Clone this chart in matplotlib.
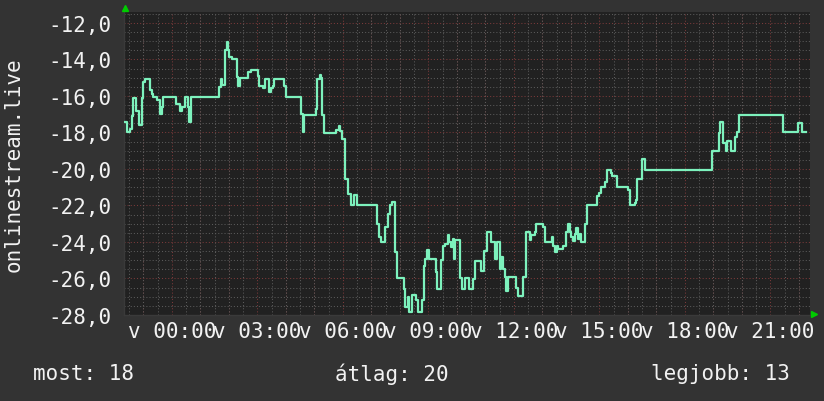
import matplotlib
matplotlib.use("Agg")
import matplotlib.pyplot as plt
from matplotlib.ticker import MultipleLocator, FixedLocator

# --- data (time in hours relative to Sunday 00:00, value) ---
hours = [-1.64, -1.58, -1.47, -1.41, -1.37, -1.26, -1.17, -1.06, -1.0, -0.94,
         -0.76, -0.71, -0.65, -0.53, -0.41, -0.35, -0.3, 0.15, 0.29, 0.35,
         0.46, 0.58, 0.61, 0.66, 1.67, 1.72, 1.75, 1.87, 1.93, 1.98,
         2.02, 2.1, 2.28, 2.31, 2.39, 2.66, 2.78, 3.01, 3.07, 3.19,
         3.25, 3.42, 3.48, 3.54, 3.6, 3.95, 4.01, 4.53, 4.59, 4.65,
         5.04, 5.08, 5.18, 5.24, 5.27, 5.32, 5.76, 5.86, 5.9, 5.97,
         6.09, 6.17, 6.29, 6.4, 6.5, 7.2, 7.26, 7.32, 7.49, 7.59,
         7.67, 7.73, 7.84, 7.9, 8.14, 8.17, 8.29, 8.33, 8.43, 8.57,
         8.64, 8.78, 8.84, 8.89, 8.95, 9.01, 9.25, 9.31, 9.46, 9.5,
         9.58, 9.69, 9.74, 9.81, 9.86, 9.89, 9.95, 10.12, 10.18, 10.3,
         10.44, 10.57, 10.65, 10.84, 10.95, 11.07, 11.21, 11.33, 11.42, 11.5,
         11.56, 11.62, 11.68, 11.74, 11.8, 12.09, 12.15, 12.32, 12.42, 12.56,
         12.61, 12.73, 12.79, 13.02, 13.08, 13.32, 13.38, 13.44, 13.5, 13.55,
         13.73, 13.84, 13.9, 13.96, 14.0, 14.08, 14.16, 14.19, 14.25, 14.31,
         14.37, 14.5, 14.56, 14.93, 14.99, 15.05, 15.19, 15.26, 15.4, 15.46,
         15.61, 16.02, 16.08, 16.25, 16.3, 16.33, 16.51, 16.59, 18.94, 19.18,
         19.24, 19.33, 19.45, 19.49, 19.61, 19.76, 19.84, 19.91, 21.43, 21.98,
         22.1, 22.25]
values = [-17.45, -18.0, -17.8, -17.1, -16.1, -16.8, -17.6, -16.1, -15.25, -15.07,
          -15.7, -15.9, -16.07, -16.2, -17.0, -16.6, -16.07, -16.45, -16.85, -16.6,
          -16.07, -16.6, -17.44, -16.07, -15.5, -15.07, -15.4, -13.5, -13.06, -13.5,
          -13.88, -14.0, -14.98, -15.43, -15.03, -14.67, -14.6, -14.9, -15.43, -15.58,
          -15.07, -15.8, -15.55, -15.43, -15.07, -15.43, -16.03, -17.0, -17.99, -17.03,
          -16.7, -15.07, -14.85, -15.0, -17.03, -18.03, -17.85, -17.66, -17.9, -18.36,
          -20.55, -21.37, -22.0, -21.42, -22.0, -23.0, -23.74, -23.98, -23.2, -22.47,
          -22.0, -21.79, -24.56, -25.95, -26.58, -27.58, -27.0, -27.85, -26.9, -27.2,
          -27.85, -27.2, -25.3, -24.93, -24.44, -24.93, -25.66, -26.58, -25.0, -24.2,
          -24.1, -23.6, -24.0, -24.3, -23.85, -24.93, -23.9, -26.0, -26.6, -26.0,
          -26.55, -26.03, -25.02, -25.57, -24.48, -23.47, -24.0, -24.93, -24.0, -25.48,
          -24.8, -25.48, -25.93, -26.67, -25.9, -26.5, -26.98, -25.9, -23.47, -23.9,
          -23.6, -23.47, -23.0, -23.2, -23.98, -23.75, -24.2, -24.53, -24.2, -24.38,
          -24.2, -23.47, -23.0, -23.47, -23.75, -23.93, -23.55, -23.25, -23.84, -23.55,
          -23.98, -23.0, -22.0, -21.46, -21.3, -21.0, -20.73, -20.04, -20.2, -20.4,
          -21.0, -21.15, -22.0, -21.85, -21.7, -20.55, -19.45, -20.04, -19.01, -18.04,
          -17.4, -18.6, -19.0, -18.48, -19.0, -18.27, -18.0, -17.02, -18.0, -17.48,
          -18.0, -18.0]

x_tick_hours = [0, 3, 6, 9, 12, 15, 18, 21]
x_tick_labels = ["v 00:00", "v 03:00", "v 06:00", "v 09:00",
                 "v 12:00", "v 15:00", "v 18:00", "v 21:00"]
y_ticks = [-28, -26, -24, -22, -20, -18, -16, -14, -12]
y_tick_labels = ["-28,0", "-26,0", "-24,0", "-22,0", "-20,0",
                 "-18,0", "-16,0", "-14,0", "-12,0"]
y_label = "onlinestream.live"
footer = [("most: 18", "left"), ("átlag: 20", "left"), ("legjobb: 13", "right")]

BG = "#333333"
PLOT_BG = "#212121"
LINE = "#7df2bd"
TXT = "#f2f2f2"
GRID_MINOR = "#5a5a5a"
GRID_MAJOR = "#7a3a3a"

plt.rcParams["font.family"] = ["DejaVu Sans Mono", "DejaVu Sans"]
plt.rcParams["font.size"] = 15

fig = plt.figure(figsize=(8.24, 4.02), dpi=100, facecolor=BG)
ax = fig.add_axes([124 / 824, 1 - 316 / 402, (810 - 124) / 824, (316 - 13) / 402])
ax.set_facecolor(PLOT_BG)

ax.set_xlim(-1.68, 22.39)
ax.set_ylim(-28, -11.4)

# grid
ax.xaxis.set_minor_locator(MultipleLocator(0.5))
ax.yaxis.set_minor_locator(MultipleLocator(0.5))
ax.grid(which="minor", color=GRID_MINOR, linestyle=(0, (1, 2)), linewidth=0.75)
for h in range(-1, 23):
    ax.axvline(h, color=GRID_MAJOR, linestyle=(0, (1, 2)), linewidth=0.75, zorder=1)
for v in y_ticks:
    ax.axhline(v, color=GRID_MAJOR, linestyle=(0, (1, 2)), linewidth=0.75, zorder=1)

ax.step(hours, values, where="post", color=LINE, linewidth=1.6, zorder=3)

ax.set_xticks(x_tick_hours)
ax.set_xticklabels(x_tick_labels)
ax.set_yticks(y_ticks)
ax.set_yticklabels(y_tick_labels)
ax.tick_params(axis="both", which="both", length=0, colors=TXT)
ax.tick_params(axis="y", pad=9)
ax.tick_params(axis="x", pad=4)

for s in ["top", "right"]:
    ax.spines[s].set_visible(False)
for s in ["left", "bottom"]:
    ax.spines[s].set_color("#3a3a3a")
    ax.spines[s].set_linewidth(1.0)

# axis arrows
ax.plot([0.002], [1.012], marker="^", color="#00cc00", markersize=5,
        transform=ax.transAxes, clip_on=False, zorder=5)
ax.plot([1.006], [0.003], marker=">", color="#00cc00", markersize=5,
        transform=ax.transAxes, clip_on=False, zorder=5)

fig.text(14 / 824, 1 - 165 / 402, y_label, rotation=90, color=TXT,
         ha="center", va="center")
fig.text(33 / 824, 1 - 374 / 402, footer[0][0], color=TXT, ha="left", va="center")
fig.text(335 / 824, 1 - 374 / 402, footer[1][0], color=TXT, ha="left", va="center")
fig.text(790 / 824, 1 - 374 / 402, footer[2][0], color=TXT, ha="right", va="center")

fig.savefig("out.png", dpi=100, facecolor=BG)
